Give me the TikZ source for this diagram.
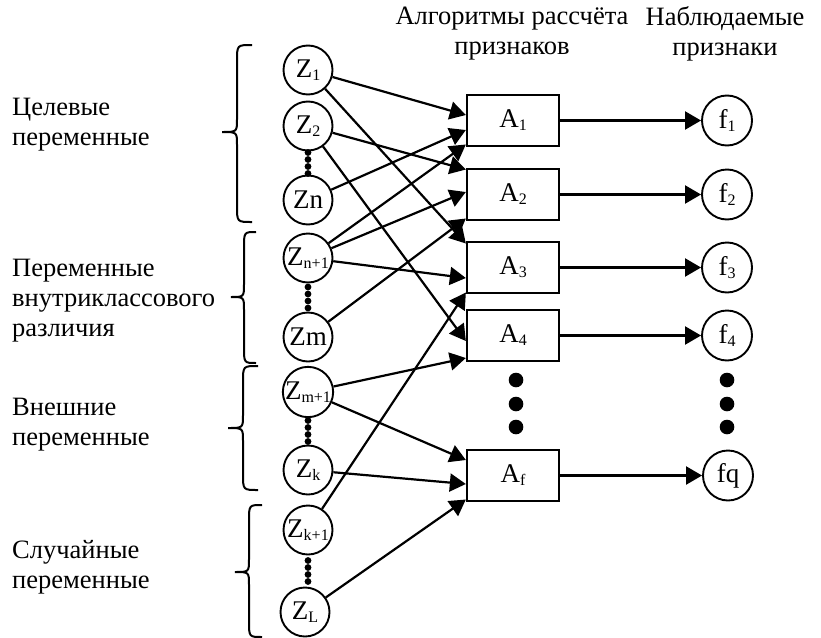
\documentclass[tikz,border=0pt]{standalone}
\usepackage{fontspec}
\setmainfont{Liberation Serif}
\usetikzlibrary{arrows.meta,calc}
\newcommand{\Sub}[1]{\raisebox{-3pt}{\fontsize{16}{16}\selectfont #1}}
\newcommand{\Brace}[6]{% xr, xm, xt, top, tipy, bottom
  \draw[brc] (#1,#4) .. controls (#2,#4) .. (#2,#4+16) -- (#2,#5-13)
    .. controls (#2,#5) .. (#3,#5) .. controls (#2,#5) .. (#2,#5+13)
    -- (#2,#6-16) .. controls (#2,#6) .. (#1,#6);}
\begin{document}
\begin{tikzpicture}[x=1pt,y=-1pt,
  zc/.style={circle,draw,line width=1.9pt,minimum size=49pt,inner sep=0pt,font=\fontsize{27}{27}\selectfont},
  abox/.style={rectangle,draw,line width=2.3pt,minimum width=92pt,minimum height=51pt,inner sep=0pt,font=\fontsize{27}{27}\selectfont},
  fc/.style={circle,draw,line width=1.9pt,minimum size=50pt,inner sep=0pt,font=\fontsize{27}{27}\selectfont},
  link/.style={line width=2.2pt,-{Triangle[length=16pt,width=18pt]}},
  lbl/.style={font=\fontsize{26.5}{30}\selectfont,align=left,anchor=west,inner sep=0pt},
  hdr/.style={font=\fontsize{26.5}{30}\selectfont,align=center,inner sep=0pt},
  brc/.style={line width=2pt},
  smalldot/.style={fill=black},
  bigdot/.style={fill=black}]
\useasboundingbox (0,0) rectangle (821,637);

% headers
\node[hdr] (h1) at (512,34) {Алгоритмы рассчёта\\признаков};
\node[hdr] (h2) at (725,34) {Наблюдаемые\\признаки};

% left labels
\node[lbl] (l1) at (12,125) {Целевые\\переменные};
\node[lbl] (l2) at (12,301) {Переменные\\внутриклассового\\различия};
\node[lbl] (l3) at (12,425) {Внешние\\переменные};
\node[lbl] (l4) at (12,567) {Случайные\\переменные};

% braces
\Brace{252}{237}{222}{45}{132}{222}
\Brace{256}{244}{231}{232}{297}{363}
\Brace{258}{243}{228}{366}{428}{490}
\Brace{262}{249}{235}{505}{572}{637}

% Z nodes
\node[zc] (Z1)  at (308,70)  {Z\Sub{1}};
\node[zc] (Z2)  at (308,126) {Z\Sub{2}};
\node[zc] (Zn)  at (308,200) {Zn};
\node[zc] (Zn1) at (308,258) {Z\Sub{n+1}};
\node[zc] (Zm)  at (308,337) {Zm};
\node[zc] (Zm1) at (308,392) {Z\Sub{m+1}};
\node[zc] (Zk)  at (308,470) {Z\Sub{k}};
\node[zc] (Zk1) at (308,530) {Z\Sub{k+1}};
\node[zc] (ZL)  at (305,612) {Z\Sub{L}};

% small dots
\foreach \y in {152.5,159.5,166.5,173.5, 287,294,301,308, 420.5,427.5,434.5,441.5, 560.5,567.5,574.5,581.5}
  \fill[smalldot] (308,\y) circle (3.4pt);

% A boxes
\node[abox] (A1) at (513,120.5) {A\Sub{1}};
\node[abox] (A2) at (513,194.5) {A\Sub{2}};
\node[abox] (A3) at (513,267.5) {A\Sub{3}};
\node[abox] (A4) at (513,335.5) {A\Sub{4}};
\node[abox] (Af) at (513,475.5) {A\Sub{f}};

% f circles
\node[fc] (f1) at (727,120.5) {f\Sub{1}};
\node[fc] (f2) at (727,194.5) {f\Sub{2}};
\node[fc] (f3) at (727,267.5) {f\Sub{3}};
\node[fc] (f4) at (727,335.5) {f\Sub{4}};
\node[fc] (fq) at (728,475.5) {fq};

% big dots
\foreach \y in {380,404,427} {
  \fill[bigdot] (516,\y) circle (7.3pt);
  \fill[bigdot] (727,\y) circle (7.3pt);
}

% Z -> A links
\draw[link] (Z1)  -- ($(A1.west)+(0,-5.5)$);
\draw[link] (Z1)  -- ($(A3.west)+(0,-24)$);
\draw[link] (Z2)  -- ($(A2.west)+(0,-25)$);
\draw[link] (Z2)  -- ($(A4.west)+(0,5.5)$);
\draw[link] (Zn)  -- ($(A1.west)+(0,9.5)$);
\draw[link] (Zn1) -- ($(A1.west)+(0,24)$);
\draw[link] (Zn1) -- ($(A2.west)+(0,-2.5)$);
\draw[link] (Zn1) -- ($(A3.west)+(0,10.5)$);
\draw[link] (Zm)  -- ($(A2.west)+(0,24)$);
\draw[link] (Zm1) -- ($(A4.west)+(0,22.5)$);
\draw[link] (Zm1) -- ($(Af.west)+(0,-15.5)$);
\draw[link] (Zk)  -- ($(Af.west)+(0,8.5)$);
\draw[link] (Zk1) -- ($(A3.west)+(0,25)$);
\draw[link] (ZL)  -- ($(Af.west)+(0,24)$);

% A -> f links
\draw[link] (A1) -- (f1);
\draw[link] (A2) -- (f2);
\draw[link] (A3) -- (f3);
\draw[link] (A4) -- (f4);
\draw[link] (Af) -- (fq);
\end{tikzpicture}
\end{document}
